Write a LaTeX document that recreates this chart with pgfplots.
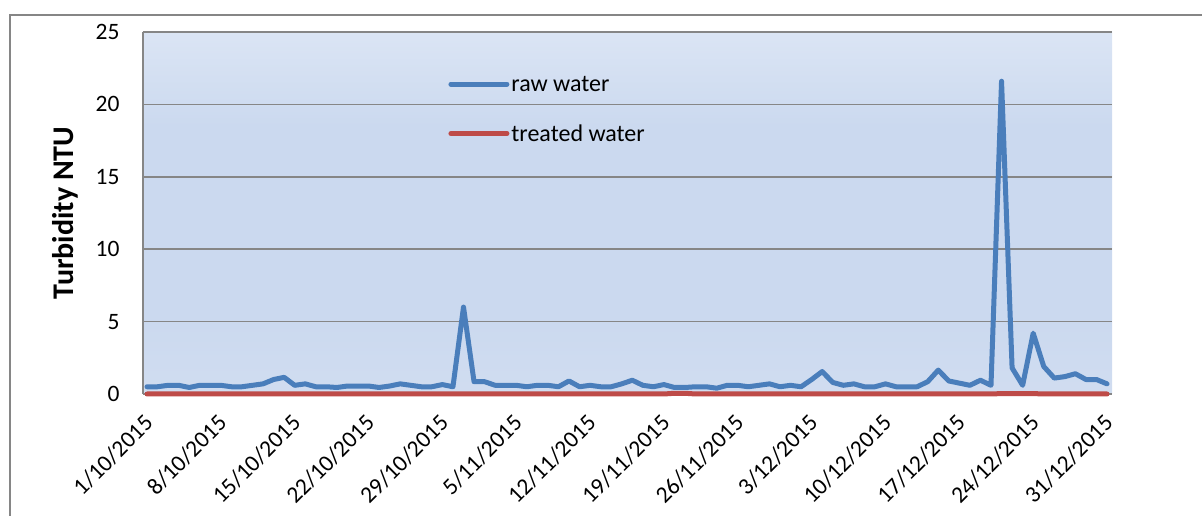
\documentclass[border=0pt]{standalone}
\usepackage{fontspec}
\setmainfont{Carlito}
\usepackage{pgfplots}
\pgfplotsset{compat=1.18}

\definecolor{rawblue}{RGB}{74,126,187}
\definecolor{treatred}{RGB}{190,75,72}
\definecolor{gridgray}{RGB}{134,134,134}
\definecolor{bgtop}{RGB}{230,237,248}
\definecolor{bgmid}{RGB}{203,217,239}
\definecolor{bgbot}{RGB}{222,230,244}
\pgfdeclareverticalshading{plotbg}{100bp}{color(0bp)=(bgbot); color(35bp)=(bgmid); color(62bp)=(bgmid); color(84bp)=(bgtop); color(100bp)=(white)}

\pgfplotstableread{
day raw treated
0 0.5 0
1 0.5 0
2 0.6 0
3 0.6 0
4 0.45 0
5 0.6 0
6 0.6 0
7 0.6 0
8 0.5 0
9 0.5 0
10 0.6 0
11 0.7 0
12 1.0 0
13 1.15 0
14 0.6 0
15 0.7 0
16 0.5 0
17 0.5 0
18 0.45 0
19 0.55 0
20 0.55 0
21 0.55 0
22 0.45 0
23 0.55 0
24 0.7 0
25 0.6 0
26 0.5 0
27 0.5 0
28 0.65 0
29 0.5 0
30 6.0 0
31 0.85 0
32 0.85 0
33 0.6 0
34 0.6 0
35 0.6 0
36 0.5 0
37 0.6 0
38 0.6 0
39 0.5 0
40 0.9 0
41 0.5 0
42 0.6 0
43 0.5 0
44 0.5 0
45 0.7 0
46 0.95 0
47 0.6 0
48 0.5 0
49 0.65 0
50 0.45 0.05
51 0.45 0.05
52 0.5 0
53 0.5 0
54 0.4 0
55 0.6 0
56 0.6 0
57 0.5 0
58 0.6 0
59 0.7 0
60 0.5 0
61 0.6 0
62 0.5 0
63 1.0 0
64 1.55 0
65 0.8 0
66 0.6 0
67 0.7 0
68 0.5 0
69 0.5 0
70 0.7 0
71 0.5 0
72 0.5 0
73 0.5 0
74 0.85 0
75 1.65 0
76 0.9 0
77 0.75 0
78 0.6 0
79 0.95 0
80 0.6 0
81 21.6 0.03
82 1.8 0.03
83 0.6 0.03
84 4.2 0.03
85 1.9 0
86 1.1 0
87 1.2 0
88 1.4 0
89 1.0 0
90 1.0 0
91 0.7 0
}\turbidity

\begin{document}
\begin{tikzpicture}
\useasboundingbox (-143pt,-122pt) rectangle (1059pt,394pt);
% outer chart frame (only left and top edges fall inside the picture)
\draw[gridgray, line width=1.5pt] (-133pt,-130pt) -- (-133pt,379pt) -- (1070pt,379pt);
\begin{axis}[
    scale only axis,
    width=969pt, height=362pt,
    at={(0pt,0pt)}, anchor=south west,
    xmin=-0.38, xmax=91.47,
    ymin=0, ymax=25,
    ytick={0,5,...,25},
    xtick={0,7,...,91},
    xticklabels={1/10/2015,8/10/2015,15/10/2015,22/10/2015,29/10/2015,5/11/2015,12/11/2015,19/11/2015,26/11/2015,3/12/2015,10/12/2015,17/12/2015,24/12/2015,31/12/2015},
    major tick length=0pt,
    axis x line*=bottom,
    axis y line*=left,
    axis line style={draw=gridgray, line width=1.5pt, -},
    ymajorgrids,
    grid style={draw=gridgray, line width=1.5pt},
    axis background/.style={shading=plotbg},
    clip=false,
    /pgf/number format/assume math mode=true,
    tick label style={font=\fontsize{23.5}{28}\selectfont, text=black},
    yticklabel style={anchor=east, xshift=-20pt},
    xticklabel style={inner sep=0pt, yshift=-25pt, xshift=2pt, rotate=45, anchor=east},
    ylabel={Turbidity NTU},
    ylabel style={font=\fontsize{30}{34}\selectfont\bfseries, at={(axis description cs:-0.0805,0.5)}, anchor=center},
    legend style={at={(axis description cs:0.315,0.885)}, anchor=north west, draw=none, fill=none,
        font=\fontsize{24}{28}\selectfont, row sep=28pt, inner sep=0pt},
    legend cell align=left,
    legend image code/.code={\draw[#1, line cap=round] (0pt,0pt) -- (56pt,0pt);},
]
\addplot[rawblue, line width=5pt, line join=round, line cap=round] table[x=day, y=raw] {\turbidity};
\addlegendentry{raw water}
\addplot[treatred, line width=5pt, line join=round, line cap=round] table[x=day, y=treated] {\turbidity};
\addlegendentry{treated water}
\end{axis}
\end{tikzpicture}
\end{document}
